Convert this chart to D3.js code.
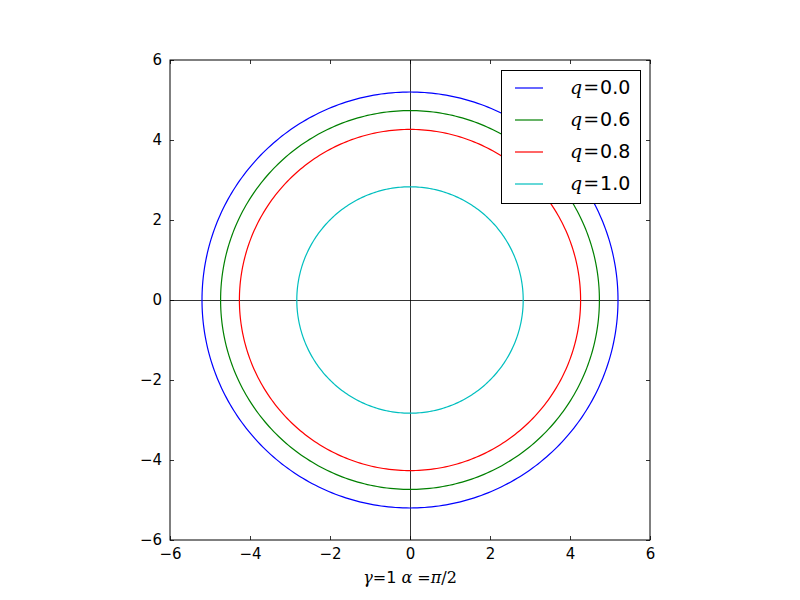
<!DOCTYPE html>
<html><head><meta charset="utf-8">
<script src="https://cdn.jsdelivr.net/npm/d3@7"></script>
<style>body{margin:0;background:#fff}svg{display:block}</style>
</head><body>
<svg id="c" width="800" height="600"></svg>
<script>
const qLabels = ["0.0","0.6","0.8","1.0"];
const radii = [5.2, 4.735, 4.265, 2.83];
const colors = ["#0000ff","#008000","#ff0000","#00bfbf"];
const ticks = [-6,-4,-2,0,2,4,6];

const svg = d3.select("#c");
const L=170, T=60, W=480, H=480;
const x = d3.scaleLinear().domain([-6,6]).range([L, L+W]);
const y = d3.scaleLinear().domain([-6,6]).range([T+H, T]);
const font = "DejaVu Sans, sans-serif";

// zero lines
svg.append("line").attr("x1",x(-6)).attr("x2",x(6)).attr("y1",y(0)+0.5).attr("y2",y(0)+0.5).attr("stroke","#000").attr("stroke-width",0.8);
svg.append("line").attr("x1",x(0)+0.5).attr("x2",x(0)+0.5).attr("y1",y(-6)).attr("y2",y(6)).attr("stroke","#000").attr("stroke-width",0.8);

// circles
const line = d3.line().x(d=>x(d[0])).y(d=>y(d[1]));
radii.forEach((r,i)=>{
  const pts = d3.range(0,361).map(a=>[r*Math.cos(a*Math.PI/180), r*Math.sin(a*Math.PI/180)]);
  svg.append("path").attr("d",line(pts)).attr("fill","none").attr("stroke",colors[i]).attr("stroke-width",1.2);
});

// axes (inward ticks)
const ax = [
  d3.axisBottom(x).tickValues(ticks).tickSize(-4).tickPadding(8).tickFormat(d=>d<0?"\u2212"+(-d):d),
  d3.axisLeft(y).tickValues(ticks).tickSize(-4).tickPadding(8).tickFormat(d=>d<0?"\u2212"+(-d):d),
  d3.axisTop(x).tickValues(ticks).tickSize(-4).tickFormat(""),
  d3.axisRight(y).tickValues(ticks).tickSize(-4).tickFormat("")
];
const tr = [`translate(0,${T+H})`,`translate(${L},0)`,`translate(0,${T})`,`translate(${L+W},0)`];
ax.forEach((a,i)=>{
  const g = svg.append("g").attr("transform",tr[i]).call(a);
  g.select(".domain").remove();
  g.selectAll("line").attr("stroke","#000").attr("stroke-width",0.8);
  g.selectAll("text").attr("font-family",font).attr("font-size",15).attr("fill","#000");
});
svg.append("rect").attr("x",L).attr("y",T).attr("width",W).attr("height",H).attr("fill","none").attr("stroke","#000").attr("stroke-width",1);

// x label
const xl = svg.append("text").attr("x",x(0)).attr("y",583).attr("text-anchor","middle").attr("font-size",16).attr("fill","#000");
xl.append("tspan").attr("font-family","DejaVu Serif, serif").attr("font-style","italic").text("\u03b3");
xl.append("tspan").attr("font-family","DejaVu Serif, serif").text("=");
xl.append("tspan").attr("font-family",font).text("1 ");
xl.append("tspan").attr("font-family","DejaVu Serif, serif").attr("font-style","italic").text("\u03b1");
xl.append("tspan").attr("font-family","DejaVu Serif, serif").text(" =");
xl.append("tspan").attr("font-family","DejaVu Serif, serif").attr("font-style","italic").text("\u03c0");
xl.append("tspan").attr("font-family","DejaVu Serif, serif").text("/2");

// legend
const lg = svg.append("g");
lg.append("rect").attr("x",501.5).attr("y",70.5).attr("width",139).attr("height",133).attr("fill","#fff").attr("stroke","#000").attr("stroke-width",1);
qLabels.forEach((q,i)=>{
  const yy = 88 + i*32;
  lg.append("line").attr("x1",515).attr("x2",543).attr("y1",yy).attr("y2",yy).attr("stroke",colors[i]).attr("stroke-width",1.2);
  const t = lg.append("text").attr("x",570).attr("y",yy+6).attr("font-size",19).attr("fill","#000");
  t.append("tspan").attr("font-family","DejaVu Serif, serif").attr("font-style","italic").text("q");
  t.append("tspan").attr("font-family","DejaVu Serif, serif").attr("dx",1).text("=");
  t.append("tspan").attr("font-family",font).attr("dx",1).text(q);
});
</script>
</body></html>
